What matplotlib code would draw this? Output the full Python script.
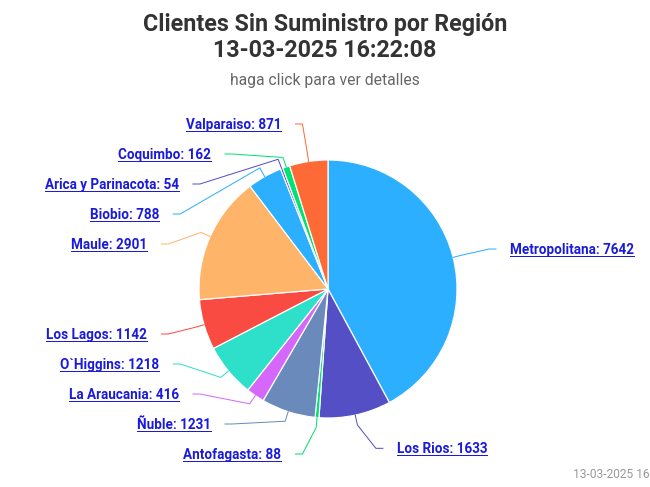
import numpy as np
import matplotlib
matplotlib.use("Agg")
import matplotlib.pyplot as plt

# clients without supply per region, in slice order (clockwise from 12 o'clock)
regions = ["Metropolitana", "Los Rios", "Antofagasta", "Ñuble", "La Araucania",
           "O`Higgins", "Los Lagos", "Maule", "Biobio", "Arica y Parinacota",
           "Coquimbo", "Valparaiso"]
clients = [7642, 1633, 88, 1231, 416, 1218, 1142, 2901, 788, 54, 162, 871]
colors = ["#2caffe", "#544fc5", "#00e272", "#6b8abc", "#d568fb", "#2ee0ca",
          "#fa4b42", "#feb56a", "#2caffe", "#544fc5", "#00e272", "#fe6a35"]

TITLE_1 = "Clientes Sin Suministro por Región"
TITLE_2 = "13-03-2025 16:22:08"
SUBTITLE = "haga click para ver detalles"
CREDITS = "13-03-2025 16:22:08"

# layout, in pixels (axes data coords == figure pixels, y pointing down)
W, H = 650, 487
CX, CY, R = 328, 289, 129
LAB_R = 163          # natural radius of the labels
ARC_A, ARC_B = 173, 168   # ellipse the label anchors sit on
GAP = 30             # min vertical distance between labels
LINK = "#1a1add"
PT = 72 / 100        # points per pixel


def distribute(ys, lo, hi, gap=GAP):
    """Highcharts-like spreading of overlapping labels along y."""
    order = np.argsort(ys)
    groups = [[i] for i in order]

    def start(g):
        n = len(g)
        s = np.mean([ys[i] for i in g]) - (n - 1) * gap / 2
        s = max(s, lo)
        return min(s, hi - (n - 1) * gap)

    while True:
        for k in range(len(groups) - 1):
            a, b = groups[k], groups[k + 1]
            if start(a) + len(a) * gap > start(b) + 1e-9:
                groups[k:k + 2] = [a + b]
                break
        else:
            break
    out = {}
    for g in groups:
        s = start(g)
        for j, i in enumerate(g):
            out[i] = s + j * gap
    return out


def main():
    plt.rcParams["font.family"] = ["Roboto", "DejaVu Sans"]
    fig = plt.figure(figsize=(W / 100, H / 100), dpi=100)
    ax = fig.add_axes([0, 0, 1, 1])

    wedges, _ = ax.pie(clients, colors=colors, center=(CX, CY), radius=R,
                       startangle=-90, counterclock=True,
                       wedgeprops=dict(edgecolor="white", linewidth=1.2 * PT))
    ax.set_xlim(0, W)
    ax.set_ylim(H, 0)
    ax.set_aspect("equal")
    ax.set_autoscale_on(False)
    ax.axis("off")

    # label geometry from the wedges
    mids = np.radians([(w.theta1 + w.theta2) / 2 for w in wedges])
    left = np.cos(mids) < 0
    nat = CY + LAB_R * np.sin(mids)
    ly = np.zeros(len(wedges))
    for side in (True, False):
        idx = np.where(left == side)[0]
        pos = distribute([nat[i] for i in idx], CY - 165, CY + 165)
        for j, i in enumerate(idx):
            ly[i] = pos[j]

    texts = []
    for i, w in enumerate(wedges):
        s = -1 if left[i] else 1
        dy = np.clip((ly[i] - CY) / ARC_B, -1, 1)
        cx_ = CX + s * ARC_A * np.sqrt(1 - dy ** 2)
        c, sn = np.cos(mids[i]), np.sin(mids[i])
        xs = [cx_, cx_ - s * 7, CX + (R + 10) * c, CX + R * c]
        ys = [ly[i], ly[i], CY + (R + 10) * sn, CY + R * sn]
        ax.plot(xs, ys, color=colors[i], lw=1.0 * PT, solid_joinstyle="miter")
        t = ax.text(cx_ + s * 14, ly[i] + 5, f"{regions[i]}: {clients[i]}",
                    ha="right" if left[i] else "left", va="baseline",
                    fontsize=13.5 * PT, fontweight="bold", color=LINK)
        texts.append(t)

    ax.text(W / 2, 31, TITLE_1, ha="center", va="baseline", fontsize=23.3 * PT,
            fontweight="bold", color="#333333")
    ax.text(W / 2, 57, TITLE_2, ha="center", va="baseline", fontsize=23.3 * PT,
            fontweight="bold", color="#333333")
    ax.text(W / 2, 85, SUBTITLE, ha="center", va="baseline", fontsize=15.6 * PT,
            color="#666666")
    # the credits text runs off the right edge in the original too
    ax.text(573, 478, CREDITS, ha="left", va="baseline", fontsize=12 * PT,
            color="#999999", clip_on=False)

    # underline the labels (they are links in the original)
    fig.canvas.draw()
    inv = ax.transData.inverted()
    for t in texts:
        bb = t.get_window_extent()
        x0, _ = inv.transform((bb.x0, bb.y0))
        x1, _ = inv.transform((bb.x1, bb.y0))
        yb = t.get_position()[1] + 2
        ax.plot([x0, x1], [yb, yb], color=LINK, lw=1.0 * PT)

    fig.savefig("out.png", dpi=100)
    plt.close(fig)


if __name__ == "__main__":
    main()
